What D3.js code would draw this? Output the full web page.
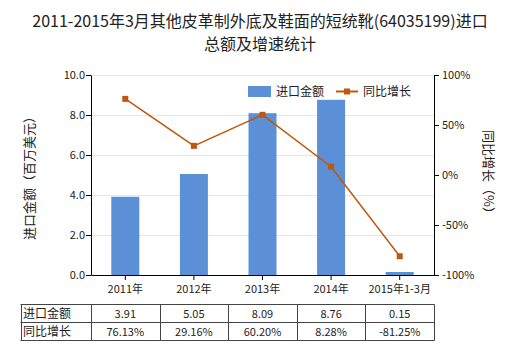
<!DOCTYPE html>
<html><head><meta charset="utf-8">
<script src="https://cdn.jsdelivr.net/npm/d3@7"></script>
<style>body{margin:0;background:#fff}svg{display:block}text{font-family:"Noto Sans CJK SC","Noto Sans",sans-serif}</style>
</head><body><svg id="c" width="520" height="350"></svg>
<script>
const categories = ["2011年","2012年","2013年","2014年","2015年1-3月"];
const importValues = [3.91, 5.05, 8.09, 8.76, 0.15];
const growthValues = [76.13, 29.16, 60.20, 8.28, -81.25];
const importLabels = ["3.91","5.05","8.09","8.76","0.15"];
const growthLabels = ["76.13%","29.16%","60.20%","8.28%","-81.25%"];
const leftTicks = [0,2,4,6,8,10];
const rightTicks = [-100,-50,0,50,100];

const svg = d3.select("#c");
const L = 91, R = 434, T = 75, B = 275;
const x = d3.scaleBand().domain(categories).range([L, R]);
const yL = d3.scaleLinear().domain([0,10]).range([B, T]);
const yR = d3.scaleLinear().domain([-100,100]).range([B, T]);
const barColor = "#5b8fd6", lineColor = "#c0560c", textColor = "#222";

// title
svg.append("text").attr("x",260).attr("y",27).attr("text-anchor","middle").attr("font-size",16).attr("fill",textColor).text("2011-2015年3月其他皮革制外底及鞋面的短统靴(64035199)进口");
svg.append("text").attr("x",260).attr("y",50).attr("text-anchor","middle").attr("font-size",16).attr("fill",textColor).text("总额及增速统计");

// grid
svg.append("g").selectAll("line").data(leftTicks.slice(1)).join("line")
  .attr("x1",L).attr("x2",R).attr("y1",d=>yL(d)+0.5).attr("y2",d=>yL(d)+0.5).attr("stroke","#e3e7ea");

// bars
const bw = 28;
svg.append("g").selectAll("rect").data(importValues).join("rect")
  .attr("x",(d,i)=>x(categories[i])+x.bandwidth()/2-bw/2).attr("width",bw)
  .attr("y",d=>yL(d)).attr("height",d=>B-yL(d)).attr("fill",barColor);

// axes
const ax = svg.append("g").attr("transform",`translate(${L},0)`).call(d3.axisLeft(yL).tickValues(leftTicks).tickFormat(d3.format(".1f")).tickSize(5).tickSizeOuter(0));
const ar = svg.append("g").attr("transform",`translate(${R},0)`).call(d3.axisRight(yR).tickValues(rightTicks).tickFormat(d=>d+"%").tickSize(5).tickSizeOuter(0));
const ab = svg.append("g").attr("transform",`translate(0,${B})`).call(d3.axisBottom(x).tickSize(5).tickSizeOuter(0));
[ax,ar,ab].forEach(g=>{g.selectAll("path,line").attr("stroke","#000");g.selectAll("text").attr("font-size",11).attr("fill",textColor).attr("font-family","\"Noto Sans CJK SC\",sans-serif");});
ax.selectAll("text").attr("dx",2);
ab.selectAll("text").attr("dy","0.9em");

// line
const line = d3.line().x((d,i)=>x(categories[i])+x.bandwidth()/2).y(d=>yR(d));
svg.append("path").datum(growthValues).attr("d",line).attr("fill","none").attr("stroke",lineColor).attr("stroke-width",1.5);
svg.append("g").selectAll("rect").data(growthValues).join("rect")
  .attr("x",(d,i)=>x(categories[i])+x.bandwidth()/2-3).attr("y",d=>yR(d)-3).attr("width",6).attr("height",6).attr("fill",lineColor);

// axis titles
svg.append("text").attr("transform","translate(34,175) rotate(-90)").attr("text-anchor","middle").attr("font-size",13).attr("fill",textColor).text("进口金额（百万美元）");
svg.append("text").attr("transform","translate(484,175) rotate(90)").attr("text-anchor","middle").attr("font-size",13).attr("fill",textColor).text("同比增长（%）");

// legend
svg.append("rect").attr("x",248).attr("y",86).attr("width",23).attr("height",11).attr("fill",barColor);
svg.append("text").attr("x",276).attr("y",96).attr("font-size",12).attr("fill",textColor).text("进口金额");
svg.append("line").attr("x1",336).attr("x2",358).attr("y1",91.5).attr("y2",91.5).attr("stroke",lineColor).attr("stroke-width",2);
svg.append("rect").attr("x",344).attr("y",88.5).attr("width",6).attr("height",6).attr("fill",lineColor);
svg.append("text").attr("x",363).attr("y",96).attr("font-size",12).attr("fill",textColor).text("同比增长");

// table
const tT = 304.5, tM = 322.5, tB = 340.5, tL = 20.5;
const tg = svg.append("g");
const colEdges = [tL].concat(categories.map(c=>x(c)+x.bandwidth()));
colEdges[1] = L; 
const edges = [tL, L].concat(categories.map(c=>x(c)+x.bandwidth()));
tg.selectAll("line.v").data(edges).join("line").attr("x1",d=>Math.round(d)+0.5).attr("x2",d=>Math.round(d)+0.5).attr("y1",tT).attr("y2",tB).attr("stroke","#444");
[tT,tM,tB].forEach(yy=>tg.append("line").attr("x1",tL).attr("x2",Math.round(R)+0.5).attr("y1",yy).attr("y2",yy).attr("stroke","#444"));
tg.append("text").attr("x",23).attr("y",318).attr("font-size",12).attr("fill",textColor).text("进口金额");
tg.append("text").attr("x",23).attr("y",336).attr("font-size",12).attr("fill",textColor).text("同比增长");
tg.selectAll("text.a").data(importLabels).join("text").attr("x",(d,i)=>x(categories[i])+x.bandwidth()/2).attr("y",318).attr("text-anchor","middle").attr("font-size",11).attr("fill",textColor).text(d=>d);
tg.selectAll("text.b").data(growthLabels).join("text").attr("x",(d,i)=>x(categories[i])+x.bandwidth()/2).attr("y",336).attr("text-anchor","middle").attr("font-size",11).attr("fill",textColor).text(d=>d);
</script></body></html>
